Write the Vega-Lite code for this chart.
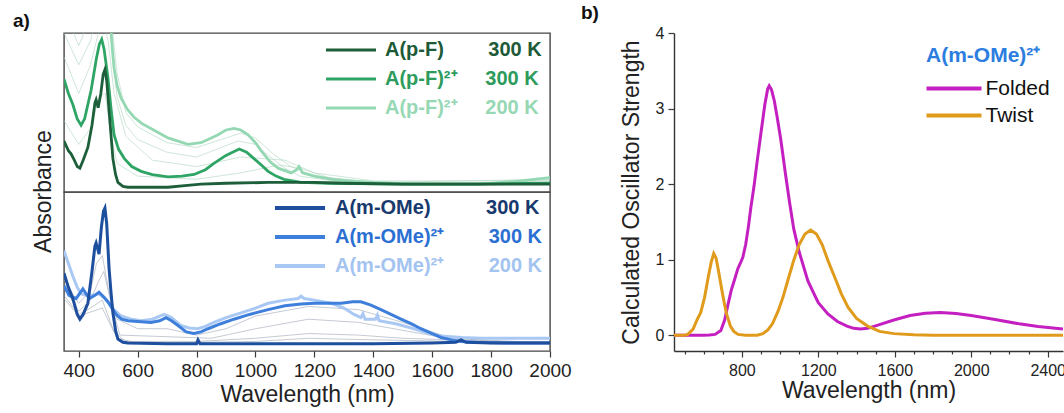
{
  "$schema": "https://vega.github.io/schema/vega-lite/v6.json",
  "padding": {"left": 12, "top": 4, "right": 0, "bottom": 0},
  "background": "white",
  "config": {
    "font": "Liberation Sans",
    "view": {"stroke": "#454545", "strokeWidth": 1.4},
    "axis": {"grid": false, "labelColor": "#222", "tickColor": "#3a3a3a", "tickWidth": 1.2, "domainColor": "#333", "domainWidth": 1.4, "titleColor": "#222", "titleFontWeight": "normal", "titleFontSize": 23, "labelFlush": false, "labelOverlap": false},
    "legend": {"padding": 0, "labelLimit": 600, "titleLimit": 400},
    "title": {"fontSize": 19, "fontWeight": "bold", "color": "#111"}
  },
  "datasets": {
    "topMain": [
      {"series":"pF2c","wl":350,"abs":1.3},{"series":"pF2c","wl":380,"abs":1.2},{"series":"pF2c","wl":410,"abs":1.15},{"series":"pF2c","wl":440,"abs":1.3},{"series":"pF2c","wl":470,"abs":1.6},{"series":"pF2c","wl":490,"abs":1.5},{"series":"pF2c","wl":505,"abs":1.15},{"series":"pF2c","wl":510,"abs":1.0},{"series":"pF2c","wl":515,"abs":0.88},{"series":"pF2c","wl":520,"abs":0.78},{"series":"pF2c","wl":530,"abs":0.67},{"series":"pF2c","wl":544,"abs":0.59},{"series":"pF2c","wl":565,"abs":0.52},{"series":"pF2c","wl":588,"abs":0.47},{"series":"pF2c","wl":615,"abs":0.43},{"series":"pF2c","wl":645,"abs":0.40},{"series":"pF2c","wl":703,"abs":0.34},{"series":"pF2c","wl":771,"abs":0.30},{"series":"pF2c","wl":815,"abs":0.31},{"series":"pF2c","wl":850,"abs":0.34},{"series":"pF2c","wl":873,"abs":0.36},{"series":"pF2c","wl":900,"abs":0.39},{"series":"pF2c","wl":927,"abs":0.40},{"series":"pF2c","wl":950,"abs":0.39},{"series":"pF2c","wl":975,"abs":0.36},{"series":"pF2c","wl":1000,"abs":0.31},{"series":"pF2c","wl":1019,"abs":0.26},{"series":"pF2c","wl":1050,"abs":0.19},{"series":"pF2c","wl":1077,"abs":0.15},{"series":"pF2c","wl":1121,"abs":0.12},{"series":"pF2c","wl":1140,"abs":0.14},{"series":"pF2c","wl":1148,"abs":0.16},{"series":"pF2c","wl":1160,"abs":0.12},{"series":"pF2c","wl":1200,"abs":0.1},{"series":"pF2c","wl":1260,"abs":0.08},{"series":"pF2c","wl":1314,"abs":0.07},{"series":"pF2c","wl":1400,"abs":0.06},{"series":"pF2c","wl":1538,"abs":0.05},{"series":"pF2c","wl":1766,"abs":0.05},{"series":"pF2c","wl":1900,"abs":0.07},{"series":"pF2c","wl":2000,"abs":0.09},
      {"series":"pF2","wl":350,"abs":0.71},{"series":"pF2","wl":365,"abs":0.62},{"series":"pF2","wl":380,"abs":0.55},{"series":"pF2","wl":395,"abs":0.46},{"series":"pF2","wl":408,"abs":0.42},{"series":"pF2","wl":420,"abs":0.46},{"series":"pF2","wl":442,"abs":0.64},{"series":"pF2","wl":460,"abs":0.84},{"series":"pF2","wl":470,"abs":0.93},{"series":"pF2","wl":478,"abs":0.96},{"series":"pF2","wl":486,"abs":0.9},{"series":"pF2","wl":499,"abs":0.72},{"series":"pF2","wl":510,"abs":0.52},{"series":"pF2","wl":520,"abs":0.36},{"series":"pF2","wl":535,"abs":0.27},{"series":"pF2","wl":555,"abs":0.21},{"series":"pF2","wl":580,"abs":0.16},{"series":"pF2","wl":612,"abs":0.13},{"series":"pF2","wl":650,"abs":0.11},{"series":"pF2","wl":703,"abs":0.095},{"series":"pF2","wl":750,"abs":0.1},{"series":"pF2","wl":792,"abs":0.11},{"series":"pF2","wl":830,"abs":0.14},{"series":"pF2","wl":859,"abs":0.18},{"series":"pF2","wl":900,"abs":0.23},{"series":"pF2","wl":945,"abs":0.27},{"series":"pF2","wl":970,"abs":0.25},{"series":"pF2","wl":995,"abs":0.21},{"series":"pF2","wl":1020,"abs":0.17},{"series":"pF2","wl":1043,"abs":0.13},{"series":"pF2","wl":1070,"abs":0.1},{"series":"pF2","wl":1097,"abs":0.08},{"series":"pF2","wl":1155,"abs":0.06},{"series":"pF2","wl":1250,"abs":0.055},{"series":"pF2","wl":1500,"abs":0.05},{"series":"pF2","wl":1750,"abs":0.05},{"series":"pF2","wl":2000,"abs":0.055},
      {"series":"pF","wl":350,"abs":0.32},{"series":"pF","wl":365,"abs":0.26},{"series":"pF","wl":374,"abs":0.24},{"series":"pF","wl":385,"abs":0.2},{"series":"pF","wl":395,"abs":0.16},{"series":"pF","wl":404,"abs":0.15},{"series":"pF","wl":415,"abs":0.2},{"series":"pF","wl":431,"abs":0.28},{"series":"pF","wl":445,"abs":0.42},{"series":"pF","wl":455,"abs":0.56},{"series":"pF","wl":459,"abs":0.58},{"series":"pF","wl":466,"abs":0.53},{"series":"pF","wl":475,"abs":0.62},{"series":"pF","wl":483,"abs":0.74},{"series":"pF","wl":489,"abs":0.77},{"series":"pF","wl":495,"abs":0.7},{"series":"pF","wl":503,"abs":0.51},{"series":"pF","wl":510,"abs":0.35},{"series":"pF","wl":516,"abs":0.21},{"series":"pF","wl":525,"abs":0.11},{"series":"pF","wl":533,"abs":0.06},{"series":"pF","wl":550,"abs":0.035},{"series":"pF","wl":567,"abs":0.03},{"series":"pF","wl":650,"abs":0.03},{"series":"pF","wl":703,"abs":0.03},{"series":"pF","wl":760,"abs":0.04},{"series":"pF","wl":815,"abs":0.05},{"series":"pF","wl":900,"abs":0.055},{"series":"pF","wl":1043,"abs":0.06},{"series":"pF","wl":1200,"abs":0.06},{"series":"pF","wl":1300,"abs":0.055},{"series":"pF","wl":1500,"abs":0.05},{"series":"pF","wl":1700,"abs":0.05},{"series":"pF","wl":2000,"abs":0.05}
    ],
    "topThin": [
      {"series":"t1","wl":350,"abs":0.45},{"series":"t1","wl":400,"abs":0.3},{"series":"t1","wl":440,"abs":0.4},{"series":"t1","wl":470,"abs":0.6},{"series":"t1","wl":490,"abs":0.62},{"series":"t1","wl":510,"abs":0.35},{"series":"t1","wl":530,"abs":0.18},{"series":"t1","wl":600,"abs":0.1},{"series":"t1","wl":800,"abs":0.08},{"series":"t1","wl":950,"abs":0.12},{"series":"t1","wl":1080,"abs":0.17},{"series":"t1","wl":1150,"abs":0.15},{"series":"t1","wl":1250,"abs":0.09},{"series":"t1","wl":1400,"abs":0.06},{"series":"t1","wl":2000,"abs":0.06},
      {"series":"t2","wl":350,"abs":0.85},{"series":"t2","wl":400,"abs":0.62},{"series":"t2","wl":440,"abs":0.8},{"series":"t2","wl":480,"abs":1.1},{"series":"t2","wl":500,"abs":0.95},{"series":"t2","wl":520,"abs":0.62},{"series":"t2","wl":560,"abs":0.35},{"series":"t2","wl":650,"abs":0.2},{"series":"t2","wl":800,"abs":0.16},{"series":"t2","wl":950,"abs":0.22},{"series":"t2","wl":1100,"abs":0.2},{"series":"t2","wl":1200,"abs":0.12},{"series":"t2","wl":1400,"abs":0.07},{"series":"t2","wl":2000,"abs":0.07},
      {"series":"t3","wl":350,"abs":1.0},{"series":"t3","wl":400,"abs":0.8},{"series":"t3","wl":440,"abs":0.95},{"series":"t3","wl":480,"abs":1.25},{"series":"t3","wl":505,"abs":1.05},{"series":"t3","wl":530,"abs":0.6},{"series":"t3","wl":560,"abs":0.42},{"series":"t3","wl":600,"abs":0.33},{"series":"t3","wl":700,"abs":0.25},{"series":"t3","wl":800,"abs":0.22},{"series":"t3","wl":870,"abs":0.27},{"series":"t3","wl":940,"abs":0.32},{"series":"t3","wl":1000,"abs":0.3},{"series":"t3","wl":1050,"abs":0.22},{"series":"t3","wl":1100,"abs":0.15},{"series":"t3","wl":1150,"abs":0.1},{"series":"t3","wl":1300,"abs":0.06},{"series":"t3","wl":1600,"abs":0.05},{"series":"t3","wl":2000,"abs":0.07},
      {"series":"t4","wl":350,"abs":1.15},{"series":"t4","wl":400,"abs":0.92},{"series":"t4","wl":440,"abs":1.1},{"series":"t4","wl":480,"abs":1.4},{"series":"t4","wl":510,"abs":1.1},{"series":"t4","wl":530,"abs":0.75},{"series":"t4","wl":560,"abs":0.5},{"series":"t4","wl":600,"abs":0.41},{"series":"t4","wl":700,"abs":0.31},{"series":"t4","wl":800,"abs":0.28},{"series":"t4","wl":900,"abs":0.34},{"series":"t4","wl":950,"abs":0.37},{"series":"t4","wl":1000,"abs":0.34},{"series":"t4","wl":1060,"abs":0.24},{"series":"t4","wl":1120,"abs":0.16},{"series":"t4","wl":1200,"abs":0.1},{"series":"t4","wl":1400,"abs":0.06},{"series":"t4","wl":2000,"abs":0.08}
    ],
    "botMain": [
      {"series":"mOMe2c","wl":350,"abs":0.63},{"series":"mOMe2c","wl":365,"abs":0.55},{"series":"mOMe2c","wl":380,"abs":0.47},{"series":"mOMe2c","wl":395,"abs":0.4},{"series":"mOMe2c","wl":408,"abs":0.36},{"series":"mOMe2c","wl":425,"abs":0.35},{"series":"mOMe2c","wl":442,"abs":0.35},{"series":"mOMe2c","wl":469,"abs":0.36},{"series":"mOMe2c","wl":490,"abs":0.33},{"series":"mOMe2c","wl":510,"abs":0.28},{"series":"mOMe2c","wl":525,"abs":0.25},{"series":"mOMe2c","wl":544,"abs":0.22},{"series":"mOMe2c","wl":578,"abs":0.2},{"series":"mOMe2c","wl":612,"abs":0.19},{"series":"mOMe2c","wl":650,"abs":0.2},{"series":"mOMe2c","wl":690,"abs":0.23},{"series":"mOMe2c","wl":715,"abs":0.21},{"series":"mOMe2c","wl":747,"abs":0.16},{"series":"mOMe2c","wl":775,"abs":0.145},{"series":"mOMe2c","wl":804,"abs":0.14},{"series":"mOMe2c","wl":830,"abs":0.155},{"series":"mOMe2c","wl":859,"abs":0.18},{"series":"mOMe2c","wl":900,"abs":0.21},{"series":"mOMe2c","wl":951,"abs":0.24},{"series":"mOMe2c","wl":1000,"abs":0.27},{"series":"mOMe2c","wl":1043,"abs":0.3},{"series":"mOMe2c","wl":1100,"abs":0.32},{"series":"mOMe2c","wl":1145,"abs":0.33},{"series":"mOMe2c","wl":1155,"abs":0.345},{"series":"mOMe2c","wl":1165,"abs":0.33},{"series":"mOMe2c","wl":1200,"abs":0.32},{"series":"mOMe2c","wl":1257,"abs":0.3},{"series":"mOMe2c","wl":1300,"abs":0.27},{"series":"mOMe2c","wl":1335,"abs":0.23},{"series":"mOMe2c","wl":1358,"abs":0.21},{"series":"mOMe2c","wl":1365,"abs":0.235},{"series":"mOMe2c","wl":1372,"abs":0.2},{"series":"mOMe2c","wl":1408,"abs":0.2},{"series":"mOMe2c","wl":1414,"abs":0.225},{"series":"mOMe2c","wl":1420,"abs":0.19},{"series":"mOMe2c","wl":1480,"abs":0.17},{"series":"mOMe2c","wl":1538,"abs":0.14},{"series":"mOMe2c","wl":1590,"abs":0.11},{"series":"mOMe2c","wl":1630,"abs":0.095},{"series":"mOMe2c","wl":1700,"abs":0.085},{"series":"mOMe2c","wl":1766,"abs":0.08},{"series":"mOMe2c","wl":1850,"abs":0.08},{"series":"mOMe2c","wl":2000,"abs":0.08},
      {"series":"mOMe2","wl":350,"abs":0.41},{"series":"mOMe2","wl":367,"abs":0.35},{"series":"mOMe2","wl":391,"abs":0.33},{"series":"mOMe2","wl":414,"abs":0.39},{"series":"mOMe2","wl":436,"abs":0.33},{"series":"mOMe2","wl":455,"abs":0.35},{"series":"mOMe2","wl":469,"abs":0.37},{"series":"mOMe2","wl":485,"abs":0.34},{"series":"mOMe2","wl":499,"abs":0.31},{"series":"mOMe2","wl":513,"abs":0.27},{"series":"mOMe2","wl":527,"abs":0.23},{"series":"mOMe2","wl":545,"abs":0.2},{"series":"mOMe2","wl":567,"abs":0.19},{"series":"mOMe2","wl":645,"abs":0.18},{"series":"mOMe2","wl":675,"abs":0.19},{"series":"mOMe2","wl":696,"abs":0.21},{"series":"mOMe2","wl":715,"abs":0.19},{"series":"mOMe2","wl":737,"abs":0.16},{"series":"mOMe2","wl":765,"abs":0.12},{"series":"mOMe2","wl":791,"abs":0.11},{"series":"mOMe2","wl":815,"abs":0.12},{"series":"mOMe2","wl":839,"abs":0.14},{"series":"mOMe2","wl":880,"abs":0.17},{"series":"mOMe2","wl":927,"abs":0.2},{"series":"mOMe2","wl":980,"abs":0.23},{"series":"mOMe2","wl":1043,"abs":0.26},{"series":"mOMe2","wl":1100,"abs":0.285},{"series":"mOMe2","wl":1155,"abs":0.295},{"series":"mOMe2","wl":1199,"abs":0.3},{"series":"mOMe2","wl":1250,"abs":0.3},{"series":"mOMe2","wl":1291,"abs":0.3},{"series":"mOMe2","wl":1330,"abs":0.31},{"series":"mOMe2","wl":1358,"abs":0.31},{"series":"mOMe2","wl":1390,"abs":0.29},{"series":"mOMe2","wl":1426,"abs":0.26},{"series":"mOMe2","wl":1460,"abs":0.23},{"series":"mOMe2","wl":1494,"abs":0.2},{"series":"mOMe2","wl":1530,"abs":0.17},{"series":"mOMe2","wl":1562,"abs":0.14},{"series":"mOMe2","wl":1600,"abs":0.11},{"series":"mOMe2","wl":1630,"abs":0.085},{"series":"mOMe2","wl":1665,"abs":0.07},{"series":"mOMe2","wl":1698,"abs":0.06},{"series":"mOMe2","wl":1750,"abs":0.055},{"series":"mOMe2","wl":1850,"abs":0.05},{"series":"mOMe2","wl":2000,"abs":0.05},
      {"series":"mOMe","wl":350,"abs":0.49},{"series":"mOMe","wl":365,"abs":0.4},{"series":"mOMe","wl":380,"abs":0.33},{"series":"mOMe","wl":395,"abs":0.23},{"series":"mOMe","wl":404,"abs":0.2},{"series":"mOMe","wl":415,"abs":0.23},{"series":"mOMe","wl":431,"abs":0.3},{"series":"mOMe","wl":445,"abs":0.5},{"series":"mOMe","wl":455,"abs":0.66},{"series":"mOMe","wl":459,"abs":0.68},{"series":"mOMe","wl":469,"abs":0.61},{"series":"mOMe","wl":477,"abs":0.78},{"series":"mOMe","wl":484,"abs":0.88},{"series":"mOMe","wl":489,"abs":0.9},{"series":"mOMe","wl":495,"abs":0.8},{"series":"mOMe","wl":503,"abs":0.52},{"series":"mOMe","wl":510,"abs":0.36},{"series":"mOMe","wl":516,"abs":0.24},{"series":"mOMe","wl":525,"abs":0.13},{"series":"mOMe","wl":533,"abs":0.075},{"series":"mOMe","wl":550,"abs":0.055},{"series":"mOMe","wl":567,"abs":0.05},{"series":"mOMe","wl":700,"abs":0.045},{"series":"mOMe","wl":800,"abs":0.045},{"series":"mOMe","wl":805,"abs":0.07},{"series":"mOMe","wl":812,"abs":0.045},{"series":"mOMe","wl":1000,"abs":0.045},{"series":"mOMe","wl":1200,"abs":0.045},{"series":"mOMe","wl":1400,"abs":0.045},{"series":"mOMe","wl":1600,"abs":0.05},{"series":"mOMe","wl":1680,"abs":0.055},{"series":"mOMe","wl":1698,"abs":0.07},{"series":"mOMe","wl":1715,"abs":0.055},{"series":"mOMe","wl":1800,"abs":0.05},{"series":"mOMe","wl":2000,"abs":0.05}
    ],
    "botThin": [
      {"series":"g1","wl":350,"abs":0.45},{"series":"g1","wl":400,"abs":0.3},{"series":"g1","wl":440,"abs":0.38},{"series":"g1","wl":460,"abs":0.55},{"series":"g1","wl":480,"abs":0.6},{"series":"g1","wl":500,"abs":0.4},{"series":"g1","wl":530,"abs":0.2},{"series":"g1","wl":600,"abs":0.14},{"series":"g1","wl":700,"abs":0.14},{"series":"g1","wl":800,"abs":0.1},{"series":"g1","wl":900,"abs":0.14},{"series":"g1","wl":1000,"abs":0.22},{"series":"g1","wl":1180,"abs":0.28},{"series":"g1","wl":1350,"abs":0.26},{"series":"g1","wl":1500,"abs":0.18},{"series":"g1","wl":1650,"abs":0.09},{"series":"g1","wl":1800,"abs":0.06},{"series":"g1","wl":2000,"abs":0.06},
      {"series":"g2","wl":350,"abs":0.4},{"series":"g2","wl":400,"abs":0.25},{"series":"g2","wl":440,"abs":0.32},{"series":"g2","wl":470,"abs":0.45},{"series":"g2","wl":485,"abs":0.5},{"series":"g2","wl":510,"abs":0.3},{"series":"g2","wl":540,"abs":0.1},{"series":"g2","wl":700,"abs":0.09},{"series":"g2","wl":850,"abs":0.08},{"series":"g2","wl":1000,"abs":0.14},{"series":"g2","wl":1180,"abs":0.2},{"series":"g2","wl":1350,"abs":0.18},{"series":"g2","wl":1500,"abs":0.13},{"series":"g2","wl":1650,"abs":0.08},{"series":"g2","wl":2000,"abs":0.05},
      {"series":"g3","wl":350,"abs":0.35},{"series":"g3","wl":400,"abs":0.23},{"series":"g3","wl":440,"abs":0.27},{"series":"g3","wl":480,"abs":0.32},{"series":"g3","wl":520,"abs":0.12},{"series":"g3","wl":560,"abs":0.06},{"series":"g3","wl":800,"abs":0.06},{"series":"g3","wl":1000,"abs":0.08},{"series":"g3","wl":1180,"abs":0.11},{"series":"g3","wl":1350,"abs":0.1},{"series":"g3","wl":1500,"abs":0.08},{"series":"g3","wl":2000,"abs":0.05},
      {"series":"g4","wl":350,"abs":0.33},{"series":"g4","wl":400,"abs":0.22},{"series":"g4","wl":480,"abs":0.27},{"series":"g4","wl":530,"abs":0.08},{"series":"g4","wl":600,"abs":0.05},{"series":"g4","wl":1000,"abs":0.06},{"series":"g4","wl":1180,"abs":0.08},{"series":"g4","wl":1400,"abs":0.07},{"series":"g4","wl":2000,"abs":0.05}
    ],
    "calc": [
      {"series":"Folded","wl":445,"f":0},{"series":"Folded","wl":600,"f":0},{"series":"Folded","wl":630,"f":0.003},{"series":"Folded","wl":660,"f":0.01},{"series":"Folded","wl":690,"f":0.06},{"series":"Folded","wl":710,"f":0.2},{"series":"Folded","wl":727,"f":0.4},{"series":"Folded","wl":745,"f":0.6},{"series":"Folded","wl":760,"f":0.72},{"series":"Folded","wl":779,"f":0.88},{"series":"Folded","wl":795,"f":0.97},{"series":"Folded","wl":805,"f":1.03},{"series":"Folded","wl":820,"f":1.2},{"series":"Folded","wl":835,"f":1.45},{"series":"Folded","wl":847,"f":1.69},{"series":"Folded","wl":863,"f":1.96},{"series":"Folded","wl":880,"f":2.3},{"series":"Folded","wl":899,"f":2.66},{"series":"Folded","wl":920,"f":3.05},{"series":"Folded","wl":935,"f":3.26},{"series":"Folded","wl":943,"f":3.3},{"series":"Folded","wl":955,"f":3.25},{"series":"Folded","wl":970,"f":3.1},{"series":"Folded","wl":985,"f":2.88},{"series":"Folded","wl":1003,"f":2.6},{"series":"Folded","wl":1030,"f":2.1},{"series":"Folded","wl":1050,"f":1.75},{"series":"Folded","wl":1072,"f":1.4},{"series":"Folded","wl":1100,"f":1.1},{"series":"Folded","wl":1145,"f":0.72},{"series":"Folded","wl":1177,"f":0.55},{"series":"Folded","wl":1200,"f":0.43},{"series":"Folded","wl":1250,"f":0.28},{"series":"Folded","wl":1300,"f":0.18},{"series":"Folded","wl":1350,"f":0.12},{"series":"Folded","wl":1385,"f":0.09},{"series":"Folded","wl":1420,"f":0.08},{"series":"Folded","wl":1458,"f":0.09},{"series":"Folded","wl":1520,"f":0.14},{"series":"Folded","wl":1595,"f":0.2},{"series":"Folded","wl":1680,"f":0.26},{"series":"Folded","wl":1760,"f":0.29},{"series":"Folded","wl":1839,"f":0.3},{"series":"Folded","wl":1920,"f":0.285},{"series":"Folded","wl":2000,"f":0.26},{"series":"Folded","wl":2117,"f":0.21},{"series":"Folded","wl":2250,"f":0.15},{"series":"Folded","wl":2350,"f":0.115},{"series":"Folded","wl":2480,"f":0.08},
      {"series":"Twist","wl":445,"f":0},{"series":"Twist","wl":500,"f":0},{"series":"Twist","wl":517,"f":0.01},{"series":"Twist","wl":545,"f":0.08},{"series":"Twist","wl":565,"f":0.2},{"series":"Twist","wl":585,"f":0.3},{"series":"Twist","wl":605,"f":0.5},{"series":"Twist","wl":625,"f":0.78},{"series":"Twist","wl":640,"f":0.97},{"series":"Twist","wl":653,"f":1.08},{"series":"Twist","wl":665,"f":1.02},{"series":"Twist","wl":680,"f":0.82},{"series":"Twist","wl":695,"f":0.6},{"series":"Twist","wl":706,"f":0.45},{"series":"Twist","wl":720,"f":0.28},{"series":"Twist","wl":740,"f":0.12},{"series":"Twist","wl":758,"f":0.05},{"series":"Twist","wl":780,"f":0.01},{"series":"Twist","wl":820,"f":0},{"series":"Twist","wl":880,"f":0},{"series":"Twist","wl":910,"f":0.02},{"series":"Twist","wl":936,"f":0.07},{"series":"Twist","wl":960,"f":0.15},{"series":"Twist","wl":990,"f":0.32},{"series":"Twist","wl":1015,"f":0.5},{"series":"Twist","wl":1040,"f":0.72},{"series":"Twist","wl":1070,"f":0.98},{"series":"Twist","wl":1100,"f":1.2},{"series":"Twist","wl":1130,"f":1.34},{"series":"Twist","wl":1160,"f":1.39},{"series":"Twist","wl":1190,"f":1.34},{"series":"Twist","wl":1220,"f":1.2},{"series":"Twist","wl":1250,"f":0.99},{"series":"Twist","wl":1290,"f":0.74},{"series":"Twist","wl":1320,"f":0.55},{"series":"Twist","wl":1355,"f":0.37},{"series":"Twist","wl":1400,"f":0.22},{"series":"Twist","wl":1458,"f":0.12},{"series":"Twist","wl":1520,"f":0.05},{"series":"Twist","wl":1595,"f":0.02},{"series":"Twist","wl":1700,"f":0.005},{"series":"Twist","wl":1800,"f":0},{"series":"Twist","wl":2480,"f":0}
    ]
  },
  "hconcat": [
    {
      "vconcat": [
        {
          "width": 486,
          "height": 159,
          "title": {"text": "a)", "anchor": "start", "frame": "group", "dx": -51, "offset": 2},
          "layer": [
            {
              "data": {"name": "topThin"},
              "mark": {"type": "line", "strokeWidth": 0.8, "color": "#a9d3bb", "opacity": 0.7, "clip": true},
              "encoding": {
                "x": {"field": "wl", "type": "quantitative", "scale": {"domain": [350, 2000], "nice": false, "zero": false}, "axis": null},
                "y": {"field": "abs", "type": "quantitative", "scale": {"domain": [0, 1], "nice": false, "zero": false}, "axis": null},
                "detail": {"field": "series", "type": "nominal"}
              }
            },
            {
              "data": {"name": "topMain"},
              "mark": {"type": "line", "strokeWidth": 2.8, "clip": true},
              "encoding": {
                "x": {"field": "wl", "type": "quantitative", "scale": {"domain": [350, 2000], "nice": false, "zero": false}, "axis": null},
                "y": {"field": "abs", "type": "quantitative", "scale": {"domain": [0, 1], "nice": false, "zero": false}, "axis": null},
                "color": {
                  "field": "series", "type": "nominal",
                  "scale": {"domain": ["pF", "pF2", "pF2c"], "range": ["#1e5f3b", "#2ea565", "#94d8b3"]},
                  "legend": {
                    "orient": "none", "legendX": 262, "legendY": 7, "title": null,
                    "symbolType": "M-5,0H5", "symbolSize": 100, "symbolOffset": 15, "symbolStrokeWidth": 3,
                    "labelFontSize": 20, "labelFontWeight": "bold", "labelOffset": 24, "rowPadding": 9,
                    "labelExpr": "datum.value === 'pF' ? 'A(p-F)\u00a0\u00a0\u00a0\u00a0\u00a0\u00a0\u00a0\u00a0300 K' : datum.value === 'pF2' ? 'A(p-F)\u00b2\u207a\u00a0\u00a0\u00a0\u00a0\u00a0300 K' : 'A(p-F)\u00b2\u207a\u00a0\u00a0\u00a0\u00a0\u00a0200 K'",
                    "labelColor": {"expr": "datum.value === 'pF' ? '#1d5a37' : datum.value === 'pF2' ? '#2c9b5c' : '#96d8b4'"}
                  }
                }
              }
            }
          ]
        },
        {
          "width": 486,
          "height": 159,
          "layer": [
            {
              "data": {"name": "botThin"},
              "mark": {"type": "line", "strokeWidth": 0.8, "color": "#9ea6b6", "opacity": 0.75, "clip": true},
              "encoding": {
                "x": {"field": "wl", "type": "quantitative", "scale": {"domain": [350, 2000], "nice": false, "zero": false}},
                "y": {"field": "abs", "type": "quantitative", "scale": {"domain": [0, 1], "nice": false, "zero": false}},
                "detail": {"field": "series", "type": "nominal"}
              }
            },
            {
              "data": {"name": "botMain"},
              "mark": {"type": "line", "strokeWidth": 3, "clip": true},
              "encoding": {
                "x": {
                  "field": "wl", "type": "quantitative",
                  "scale": {"domain": [350, 2000], "nice": false, "zero": false},
                  "axis": {
                    "title": "Wavelength (nm)", "domain": false,
                    "values": [400,450,500,550,600,650,700,750,800,850,900,950,1000,1050,1100,1150,1200,1250,1300,1350,1400,1450,1500,1550,1600,1650,1700,1750,1800,1850,1900,1950,2000],
                    "format": "d",
                    "labelExpr": "datum.value % 200 === 0 ? datum.label : ''",
                    "tickSize": {"condition": {"test": "datum.value % 200 === 0", "value": 6}, "value": 3},
                    "labelFontSize": 19, "labelPadding": 4, "titlePadding": 3
                  }
                },
                "y": {
                  "field": "abs", "type": "quantitative",
                  "scale": {"domain": [0, 1], "nice": false, "zero": false},
                  "axis": {"title": "Absorbance", "domain": false, "ticks": false, "labels": false, "titleY": -1, "titlePadding": 9}
                },
                "color": {
                  "field": "series", "type": "nominal",
                  "scale": {"domain": ["mOMe", "mOMe2", "mOMe2c"], "range": ["#1d4f9e", "#3f7fdc", "#a9c9f4"]},
                  "legend": {
                    "orient": "none", "legendX": 210, "legendY": 6, "title": null,
                    "symbolType": "M-5,0H5", "symbolSize": 100, "symbolOffset": 16, "symbolStrokeWidth": 4,
                    "labelFontSize": 20, "labelFontWeight": "bold", "labelOffset": 25, "rowPadding": 9,
                    "labelExpr": "datum.value === 'mOMe' ? 'A(m-OMe)\u00a0\u00a0\u00a0\u00a0\u00a0\u00a0\u00a0\u00a0\u00a0\u00a0300 K' : datum.value === 'mOMe2' ? 'A(m-OMe)\u00b2\u207a\u00a0\u00a0\u00a0\u00a0\u00a0\u00a0\u00a0\u00a0300 K' : 'A(m-OMe)\u00b2\u207a\u00a0\u00a0\u00a0\u00a0\u00a0\u00a0\u00a0\u00a0200 K'",
                    "labelColor": {"expr": "datum.value === 'mOMe' ? '#18396e' : datum.value === 'mOMe2' ? '#2b6fd3' : '#a3c3f0'"}
                  }
                }
              }
            }
          ]
        }
      ],
      "spacing": 0,
      "bounds": "flush",
      "resolve": {"scale": {"x": "independent", "y": "independent", "color": "independent"}}
    },
    {
      "width": 389,
      "height": 318,
      "view": {"stroke": null},
      "title": {"text": "b)", "anchor": "start", "frame": "group", "dx": -93, "offset": 2},
      "layer": [
        {
          "mark": {"type": "rule", "color": "#111", "strokeWidth": 1.4},
          "encoding": {"y": {"datum": 0, "type": "quantitative"}}
        },
        {
          "mark": {"type": "rule", "color": "#333", "strokeWidth": 1.4},
          "encoding": {"y": {"datum": 4, "type": "quantitative"}}
        },
        {
          "data": {"name": "calc"},
          "mark": {"type": "line", "strokeWidth": 3, "clip": true},
          "encoding": {
            "x": {
              "field": "wl", "type": "quantitative",
              "scale": {"domain": [445, 2480], "nice": false, "zero": false},
              "axis": {
                "title": "Wavelength (nm)",
                "values": [500,600,700,800,900,1000,1100,1200,1300,1400,1500,1600,1700,1800,1900,2000,2100,2200,2300,2400],
                "format": "d",
                "labelExpr": "datum.value % 400 === 0 ? datum.label : ''",
                "tickSize": {"condition": {"test": "datum.value % 400 === 0", "value": 6}, "value": 3},
                "labelFontSize": 16, "labelPadding": 5, "titlePadding": 1
              }
            },
            "y": {
              "field": "f", "type": "quantitative",
              "scale": {"domain": [-0.21, 4], "nice": false, "zero": false},
              "axis": {
                "title": "Calculated Oscillator Strength",
                "values": [0,0.25,0.5,0.75,1,1.25,1.5,1.75,2,2.25,2.5,2.75,3,3.25,3.5,3.75,4],
                "format": "d",
                "labelExpr": "datum.value % 1 === 0 ? datum.label : ''",
                "tickSize": {"condition": {"test": "datum.value % 1 === 0", "value": 6}, "value": 3},
                "labelFontSize": 16, "labelPadding": 4, "titlePadding": 12
              }
            },
            "color": {
              "field": "series", "type": "nominal",
              "scale": {"domain": ["Folded", "Twist"], "range": ["#c41fc0", "#e09b1c"]},
              "legend": {
                "orient": "none", "legendX": 252, "legendY": 12,
                "title": "A(m-OMe)\u00b2\u207a", "titleColor": "#2b7de0", "titleFontSize": 21, "titleFontWeight": "bold", "titlePadding": 12,
                "symbolType": "M-5.5,0H5.5", "symbolSize": 100, "symbolOffset": 17.5, "symbolStrokeWidth": 4,
                "labelFontSize": 21, "labelColor": "#111", "labelOffset": 21, "rowPadding": 5
              }
            }
          }
        }
      ]
    }
  ],
  "spacing": 610,
  "bounds": "flush",
  "resolve": {"scale": {"x": "independent", "y": "independent", "color": "independent"}}
}
